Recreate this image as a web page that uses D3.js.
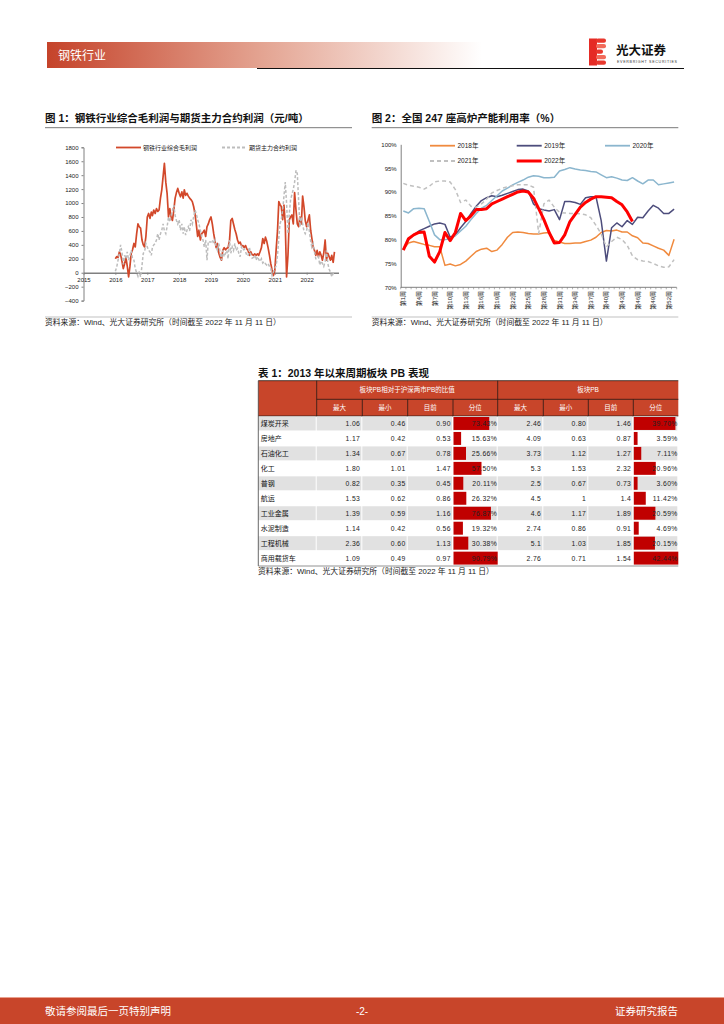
<!DOCTYPE html>
<html>
<head>
<meta charset="utf-8">
<script src="https://cdn.jsdelivr.net/npm/d3@7"></script>
<style>
body { margin: 0; background: #fff; }
text { font-family: "Liberation Sans", "Noto Sans CJK SC", sans-serif; }
</style>
</head>
<body>
<script>
// ---- chart 1 data: half-month readings from Jan 2016 ----
const steelMargin = [
    200, 230, 220, 300, 260, 170, 60, 130, 220, 100, -60, 90, 280, 330, 420, 370, 560, 700, 660, 640, 470, 400, 370, 520,
    800, 850, 780, 870, 820, 900, 850, 920, 880, 900, 1070, 1190, 1380, 1570, 1300, 1140, 800, 920, 800, 750, 900, 1070, 1150, 1210,
    1140, 1090, 1160, 1070, 1190, 1110, 1140, 1100, 1070, 1050, 1020, 950, 850, 700, 520, 610, 470, 560, 580, 610, 520, 660, 700, 760,
    800, 700, 560, 450, 360, 420, 280, 220, 180, 320, 360, 330, 350, 360, 460, 750, 780, 700, 620, 560, 470, 420, 440, 390,
    390, 360, 390, 340, 320, 250, 300, 260, 250, 270, 250, 270, 250, 300, 360, 490, 420, 510, 450, 360, 250, 130, 40, -40,
    30, 320, 600, 1020, 980, 950, 760, 970, 700, -60, 250, 760, 800, 830, 700, 1150, 900, 700, 660, 800, 700, 1100, 950, 750,
    660, 750, 830, 610, 500, 370, 320, 250, 320, 230, 300, 250, 180, 280, 470, 180, 280, 230, 180, 250, 150, 300
];
const futuresMargin = [
    20, 80, 180, 280, 400, 300, 120, 250, 200, 300, 180, 250, 320, 200, 180, 60, 0, -50, 20, -60, 100, 280, 300, 420,
    370, 320, 300, 250, 370, 400, 420, 470, 560, 470, 560, 610, 700, 600, 560, 660, 800, 730, 820, 900, 970, 820, 750, 700,
    760, 610, 700, 560, 660, 540, 610, 660, 600, 760, 700, 800, 900, 850, 760, 700, 610, 520, 470, 370, 470, 180, 450, 440,
    440, 470, 420, 470, 370, 320, 420, 280, 180, 320, 230, 280, 320, 200, 470, 280, 370, 320, 420, 320, 350, 280, 230, 370,
    320, 340, 300, 250, 240, 370, 250, 210, 220, 250, 180, 230, 190, 160, 200, 140, 160, 130, 110, 130, 90, 60, -40, 10,
    60, 100, 250, 500, 700, 760, 900, 1100, 1300, 1000, 560, 850, 1050, 1120, 1200, 1300, 1470, 1420, 1040, 660, 800, 700, 600, 560,
    610, 720, 600, 450, 370, 420, 300, 200, 200, 230, 110, 170, 130, 90, 160, 320, 130, 50, 10, -60, -10, -30
];
const marginTicks = [-400, -200, 0, 200, 400, 600, 800, 1000, 1200, 1400, 1600, 1800];
const yearTicks = [2015, 2016, 2017, 2018, 2019, 2020, 2021, 2022];
const marginNames = ["钢铁行业综合毛利润", "期货主力合约利润"];

// ---- chart 2 data: weekly blast furnace utilisation (%) ----
const util2018 = [78.0, 79.3, 79.6, 79.3, 79.0, 78.8, 78.5, 78.5, 74.6, 74.9, 74.5, 74.8, 75.5, 76.5, 77.5, 78.0, 78.2, 77.5, 77.8, 79.0,
    80.5, 81.5, 81.6, 81.5, 81.3, 81.2, 81.2, 81.4, 81.5, 79.8, 79.5, 79.2, 79.2, 79.3, 79.3, 79.6, 79.9, 80.5, 81.5, 81.9,
    81.8, 82.0, 81.6, 81.6, 80.8, 80.4, 79.3, 79.2, 78.7, 78.2, 77.8, 76.7, 80.1];
const util2019 = [78.0, 80.0, 81.0, 81.8, 82.3, 82.8, 83.3, 83.5, 83.2, 80.5, 81.0, 82.5, 83.8, 85.5, 87.0, 88.2, 88.8, 89.2, 89.0, 89.3,
    89.7, 90.1, 90.5, 90.6, 90.2, 87.5, 86.5, 86.2, 86.0, 86.3, 84.2, 88.0, 88.0, 87.8, 87.4, 88.8, 89.0, 89.0, 84.0, 75.5,
    82.5, 83.5, 82.7, 84.0, 83.2, 84.7, 84.6, 86.0, 87.2, 86.6, 85.5, 85.5, 86.4];
const util2020 = [86.0, 85.6, 86.5, 86.6, 86.5, 83.8, 81.0, 80.0, 80.0, 80.2, 80.8, 81.8, 82.8, 84.2, 85.5, 86.6, 87.2, 88.2, 89.2, 90.2,
    90.8, 91.5, 92.0, 92.5, 93.1, 93.4, 93.3, 93.0, 93.0, 93.1, 94.4, 94.7, 95.1, 94.8, 94.6, 94.5, 94.3, 94.2, 93.6, 93.0,
    93.2, 92.9, 92.5, 92.4, 93.0, 92.3, 91.7, 92.5, 92.5, 91.5, 91.7, 91.9, 92.1];
const util2021 = [91.8, 91.4, 91.2, 91.0, 90.6, 91.2, 92.1, 92.3, 92.3, 92.1, 90.5, 87.8, 88.3, 87.0, 86.8, 87.5, 88.5, 89.8, 90.3, 90.8,
    91.1, 91.3, 91.5, 91.5, 91.5, 91.0, 81.3, 87.5, 88.3, 86.8, 85.7, 85.6, 85.5, 85.5, 85.4, 85.2, 84.6, 83.0, 81.2, 78.5,
    79.6, 80.5, 80.0, 78.8, 76.6, 75.8, 75.5, 75.4, 75.0, 74.5, 74.2, 74.3, 75.8];
const util2022 = [77.8, 80.2, 81.0, 81.5, 81.6, 76.5, 75.3, 77.5, 81.5, 79.8, 81.5, 85.5, 84.0, 85.0, 86.3, 86.3, 86.5, 87.5, 88.0, 88.5,
    89.0, 89.5, 90.0, 90.2, 90.0, 88.7, 86.5, 84.2, 81.5, 79.3, 79.4, 81.0, 83.8, 85.3, 86.8, 87.8, 88.5, 89.0, 89.0, 88.9,
    88.8, 88.0, 87.3, 85.8, 83.8];
const utilNames = ["2018年", "2019年", "2020年", "2021年", "2022年"];
const utilTicks = [70, 75, 80, 85, 90, 95, 100];
const weekTicks = [1, 4, 7, 10, 13, 16, 19, 22, 25, 28, 31, 34, 37, 40, 43, 46, 49, 52];

// ---- table data ----
const sectorNames = ["煤炭开采", "房地产", "石油化工", "化工", "普钢", "航运", "工业金属", "水泥制造", "工程机械", "商用载货车"];
const relMax = ["1.06", "1.17", "1.34", "1.80", "0.82", "1.53", "1.39", "1.14", "2.36", "1.09"];
const relMin = ["0.46", "0.42", "0.67", "1.01", "0.35", "0.62", "0.59", "0.42", "0.60", "0.49"];
const relNow = ["0.90", "0.53", "0.78", "1.47", "0.45", "0.86", "1.16", "0.56", "1.13", "0.97"];
const relPct = [73.43, 15.63, 25.66, 57.50, 20.11, 26.32, 76.87, 19.32, 30.38, 90.79];
const pbMax = ["2.46", "4.09", "3.73", "5.3", "2.5", "4.5", "4.6", "2.74", "5.1", "2.76"];
const pbMin = ["0.80", "0.63", "1.12", "1.53", "0.67", "1", "1.17", "0.86", "1.03", "0.71"];
const pbNow = ["1.46", "0.87", "1.27", "2.32", "0.73", "1.4", "1.89", "0.91", "1.85", "1.54"];
const pbPct = [39.70, 3.59, 7.11, 20.96, 3.60, 11.42, 20.59, 4.69, 20.15, 42.44];
const subHeads = ["最大", "最小", "目前", "分位"];

const RED = "#C8452A";

const svg = d3.select("body").append("svg")
    .attr("width", 724)
    .attr("height", 1024);

// ---------- page header ----------
const defs = svg.append("defs");
const hg = defs.append("linearGradient").attr("id", "hdr");
hg.append("stop").attr("offset", "0").attr("stop-color", "#C5432A");
hg.append("stop").attr("offset", "0.5").attr("stop-color", "#E4A593");
hg.append("stop").attr("offset", "1").attr("stop-color", "#FFFFFF");

svg.append("rect").attr("x", 47).attr("y", 42).attr("width", 435).attr("height", 26).attr("fill", "url(#hdr)");
svg.append("text").attr("x", 58).attr("y", 59.5).attr("fill", "#fff")
    .style("font-size", "12px").text("钢铁行业");
svg.append("line").attr("x1", 257).attr("x2", 684).attr("y1", 68.5).attr("y2", 68.5)
    .attr("stroke", "#111").attr("stroke-width", 1);

// logo
const logo = svg.append("g");
logo.append("rect").attr("x", 589).attr("y", 38.5).attr("width", 8).attr("height", 27).attr("fill", "#E52B25");
[0, 1, 2, 3, 4].forEach(k => {
    logo.append("rect")
        .attr("x", 596).attr("y", 38.5 + k * 5.5)
        .attr("width", k === 2 ? 7 : 10).attr("height", 4.2)
        .attr("rx", 2)
        .attr("fill", k % 2 ? "#F26B5B" : "#E8382E");
});
logo.append("text").attr("x", 616).attr("y", 55).style("font-size", "12.5px").style("font-weight", "bold")
    .attr("fill", "#111").text("光大证券");
logo.append("text").attr("x", 617).attr("y", 62.5).style("font-size", "3.6px")
    .attr("textLength", 60).attr("fill", "#333").text("EVERBRIGHT SECURITIES");

// ---------- helpers ----------
function title(x, y, w, txt) {
    svg.append("text").attr("x", x).attr("y", y).style("font-size", "10.5px").style("font-weight", "bold")
        .attr("fill", "#111").text(txt);
    svg.append("line").attr("x1", x).attr("x2", x + w).attr("y1", 127.7).attr("y2", 127.7)
        .attr("stroke", "#555").attr("stroke-width", 0.8);
}
function source(x, y, w, txt) {
    if (w) {
        svg.append("line").attr("x1", x).attr("x2", x + w).attr("y1", y - 8).attr("y2", y - 8)
            .attr("stroke", "#999").attr("stroke-width", 0.6);
    }
    svg.append("text").attr("x", x).attr("y", y).style("font-size", "7.8px").attr("fill", "#222").text(txt);
}
function styleAxis(g) {
    g.selectAll("path, line").attr("stroke", "#808080");
    g.selectAll("text").style("font-size", "6px").attr("fill", "#222")
        .style("font-family", '"Liberation Sans", sans-serif');
}

const SRC = "资料来源：Wind、光大证券研究所（时间截至 2022 年 11 月 11 日）";

// ---------- chart 1 ----------
title(45, 121.5, 307, "图 1：钢铁行业综合毛利润与期货主力合约利润（元/吨）");

const dateOf = i => new Date(2016, Math.floor(i / 2), i % 2 ? 16 : 1);
const x1 = d3.scaleTime().domain([new Date(2015, 0, 1), new Date(2023, 0, 1)]).range([83.5, 338.5]);
const y1 = d3.scaleLinear().domain([-400, 1800]).range([300.6, 147.3]);

svg.append("g").attr("transform", "translate(83.5,0)")
    .call(d3.axisLeft(y1).tickValues(marginTicks).tickFormat(d3.format("d")).tickSize(2).tickPadding(3))
    .call(styleAxis);

const xAxis1 = svg.append("g").attr("transform", `translate(0,${y1(0)})`)
    .call(d3.axisBottom(x1).tickValues(yearTicks.map(y => new Date(y, 0, 1)))
        .tickFormat(d3.timeFormat("%Y")).tickSize(2).tickPadding(3).tickSizeOuter(0))
    .call(styleAxis);
xAxis1.select(".domain").attr("stroke-width", 1.3);

const line1 = d3.line().x((d, i) => x1(dateOf(i))).y(d => y1(d));
svg.append("path").datum(steelMargin).attr("d", line1)
    .attr("fill", "none").attr("stroke", "#D2482A").attr("stroke-width", 1.7).attr("stroke-linejoin", "round");
svg.append("path").datum(futuresMargin).attr("d", line1)
    .attr("fill", "none").attr("stroke", "#BDBDBD").attr("stroke-width", 1.5).attr("stroke-dasharray", "3,2");

// legend 1
[[116, "#D2482A", null], [222, "#BDBDBD", "3,2"]].forEach((l, k) => {
    svg.append("line").attr("x1", l[0]).attr("x2", l[0] + 25).attr("y1", 147.5).attr("y2", 147.5)
        .attr("stroke", l[1]).attr("stroke-width", 1.8).attr("stroke-dasharray", l[2]);
    svg.append("text").attr("x", l[0] + 27).attr("y", 149.6).style("font-size", "6px").attr("fill", "#222")
        .text(marginNames[k]);
});

source(45, 325, 307, SRC);

// ---------- chart 2 ----------
title(371.7, 121.5, 306.6, "图 2：全国 247 座高炉产能利用率（%）");

const weeks = d3.range(1, 54);
const x2 = d3.scaleBand().domain(weeks).range([400.7, 676.7]);
const y2 = d3.scaleLinear().domain([70, 100]).range([287.3, 144.3]);
const xc = w => x2(w) + x2.bandwidth() / 2;

svg.append("g").attr("transform", "translate(400.7,0)")
    .call(d3.axisLeft(y2).tickValues(utilTicks).tickFormat(d => d + "%").tickSize(0).tickPadding(4))
    .call(styleAxis);

svg.append("line").attr("x1", 400.7).attr("x2", 676.7).attr("y1", 287.3).attr("y2", 287.3).attr("stroke", "#808080");
svg.selectAll(".wtick").data(weeks.concat([54])).enter().append("line")
    .attr("x1", w => w === 54 ? 676.7 : x2(w)).attr("x2", w => w === 54 ? 676.7 : x2(w))
    .attr("y1", 287.3).attr("y2", 289.3).attr("stroke", "#808080").attr("stroke-width", 0.6);
svg.selectAll(".wlabel").data(weekTicks).enter().append("text")
    .attr("transform", w => `translate(${xc(w)},291) rotate(-90)`)
    .attr("text-anchor", "end").attr("dominant-baseline", "central")
    .style("font-size", "6px").attr("fill", "#222")
    .text(w => "第" + w + "周");

const utilSeries = [util2018, util2019, util2020, util2021, util2022];
const utilStyle = [
    { c: "#F08A3E", w: 1.5, d: null },
    { c: "#4D4D7C", w: 1.5, d: null },
    { c: "#8BB6CE", w: 1.5, d: null },
    { c: "#C0C0C0", w: 1.5, d: "4,3" },
    { c: "#FF0000", w: 3, d: null }
];
const line2 = d3.line().x((d, i) => xc(weeks[i])).y(d => y2(d));
utilSeries.forEach((s, k) => {
    svg.append("path").datum(s).attr("d", line2)
        .attr("fill", "none").attr("stroke", utilStyle[k].c).attr("stroke-width", utilStyle[k].w)
        .attr("stroke-dasharray", utilStyle[k].d).attr("stroke-linejoin", "round");
});

// legend 2
const legPos = [[430, 145.7], [516.7, 145.7], [605, 145.7], [430, 161], [516.7, 161]];
legPos.forEach((p, k) => {
    svg.append("line").attr("x1", p[0]).attr("x2", p[0] + 25).attr("y1", p[1]).attr("y2", p[1])
        .attr("stroke", utilStyle[k].c).attr("stroke-width", k === 4 ? 3 : 1.8)
        .attr("stroke-dasharray", utilStyle[k].d);
    svg.append("text").attr("x", p[0] + 27.5).attr("y", p[1] + 2.2).style("font-size", "6.5px").attr("fill", "#222")
        .text(utilNames[k]);
});

source(371.7, 325, 306.6, SRC);

// ---------- table ----------
svg.append("text").attr("x", 258).attr("y", 376.5).style("font-size", "10.5px").style("font-weight", "bold")
    .attr("fill", "#111").text("表 1：2013 年以来周期板块 PB 表现");

const colX = [258.3, 316.7, 362.3, 407.7, 453, 497.7, 543.3, 588.3, 633.3, 678.3];
const hTop = 380.7, hMid = 399.3, hBot = 416;
const rows = d3.scaleBand().domain(sectorNames).range([hBot, 565.6]);

svg.append("rect").attr("x", colX[0]).attr("y", hTop).attr("width", colX[9] - colX[0]).attr("height", hBot - hTop)
    .attr("fill", RED);
const hdrLine = (x1, x2, y1, y2) => svg.append("line").attr("x1", x1).attr("x2", x2).attr("y1", y1).attr("y2", y2)
    .attr("stroke", "#2a1a15").attr("stroke-width", 0.8);
hdrLine(colX[0], colX[9], hTop, hTop);
hdrLine(colX[1], colX[9], hMid, hMid);
hdrLine(colX[0], colX[9], hBot, hBot);
hdrLine(colX[1], colX[1], hTop, hBot);
hdrLine(colX[5], colX[5], hTop, hBot);
[2, 3, 4, 6, 7, 8].forEach(c => hdrLine(colX[c], colX[c], hMid, hBot));

svg.append("text").attr("x", (colX[1] + colX[5]) / 2).attr("y", 392.3).attr("text-anchor", "middle")
    .style("font-size", "6.5px").attr("fill", "#fff").text("板块PB相对于沪深两市PB的比值");
svg.append("text").attr("x", (colX[5] + colX[9]) / 2).attr("y", 392.3).attr("text-anchor", "middle")
    .style("font-size", "6.5px").attr("fill", "#fff").text("板块PB");
[1, 2, 3, 4, 5, 6, 7, 8].forEach(c => {
    svg.append("text").attr("x", (colX[c] + colX[c + 1]) / 2).attr("y", 410.2).attr("text-anchor", "middle")
        .style("font-size", "6.5px").attr("fill", "#fff").text(subHeads[(c - 1) % 4]);
});

// row backgrounds
const cells = svg.append("g");
sectorNames.forEach((name, r) => {
    const y = rows(name);
    for (let c = 0; c < 9; c++) {
        cells.append("rect").attr("x", colX[c]).attr("y", y + 0.5)
            .attr("width", colX[c + 1] - colX[c] - 1).attr("height", rows.bandwidth() - 1)
            .attr("fill", r % 2 === 0 ? "#E1E1E1" : "#FFFFFF");
    }
});

// percentile bars
const barRel = d3.scaleLinear().domain([0, d3.max(relPct)]).range([0, colX[5] - colX[4] - 0.5]);
const barPb = d3.scaleLinear().domain([0, d3.max(pbPct)]).range([0, colX[9] - colX[8] - 0.5]);
svg.selectAll(".relbar").data(relPct).enter().append("rect")
    .attr("x", colX[4] + 0.5).attr("y", (d, i) => rows(sectorNames[i]) + 1)
    .attr("width", d => barRel(d)).attr("height", rows.bandwidth() - 2).attr("fill", "#C00000");
svg.selectAll(".pbbar").data(pbPct).enter().append("rect")
    .attr("x", colX[8] + 0.5).attr("y", (d, i) => rows(sectorNames[i]) + 1)
    .attr("width", d => barPb(d)).attr("height", rows.bandwidth() - 2).attr("fill", "#C00000");

// cell text
const cols = [relMax, relMin, relNow, relPct.map(v => v.toFixed(2) + "%"),
    pbMax, pbMin, pbNow, pbPct.map(v => v.toFixed(2) + "%")];
sectorNames.forEach((name, r) => {
    const y = rows(name) + rows.bandwidth() / 2 + 2.4;
    svg.append("text").attr("x", colX[0] + 2.5).attr("y", y).style("font-size", "7px").attr("fill", "#111").text(name);
    cols.forEach((col, c) => {
        svg.append("text").attr("x", colX[c + 2] - (c % 4 === 3 ? 0.5 : 2)).attr("y", y)
            .attr("text-anchor", "end").style("font-size", "6.8px").style("letter-spacing", "0.4px")
            .attr("fill", "#222").text(col[r]);
    });
});

svg.append("line").attr("x1", colX[0]).attr("x2", colX[0]).attr("y1", hTop).attr("y2", 566)
    .attr("stroke", "#444").attr("stroke-width", 0.8);
svg.append("line").attr("x1", colX[0]).attr("x2", colX[9]).attr("y1", 566).attr("y2", 566)
    .attr("stroke", "#777").attr("stroke-width", 0.8);

source(258, 574, 0, SRC);

// ---------- footer ----------
svg.append("rect").attr("x", 0).attr("y", 997).attr("width", 724).attr("height", 1).attr("fill", "#E9A08E");
svg.append("rect").attr("x", 0).attr("y", 998).attr("width", 724).attr("height", 26).attr("fill", RED);
svg.append("text").attr("x", 45).attr("y", 1015).style("font-size", "10.5px").attr("fill", "#fff").text("敬请参阅最后一页特别声明");
svg.append("text").attr("x", 362).attr("y", 1015).attr("text-anchor", "middle").style("font-size", "10px").attr("fill", "#fff").text("-2-");
svg.append("text").attr("x", 678).attr("y", 1015).attr("text-anchor", "end").style("font-size", "10.5px").attr("fill", "#fff").text("证券研究报告");
</script>
</body>
</html>
